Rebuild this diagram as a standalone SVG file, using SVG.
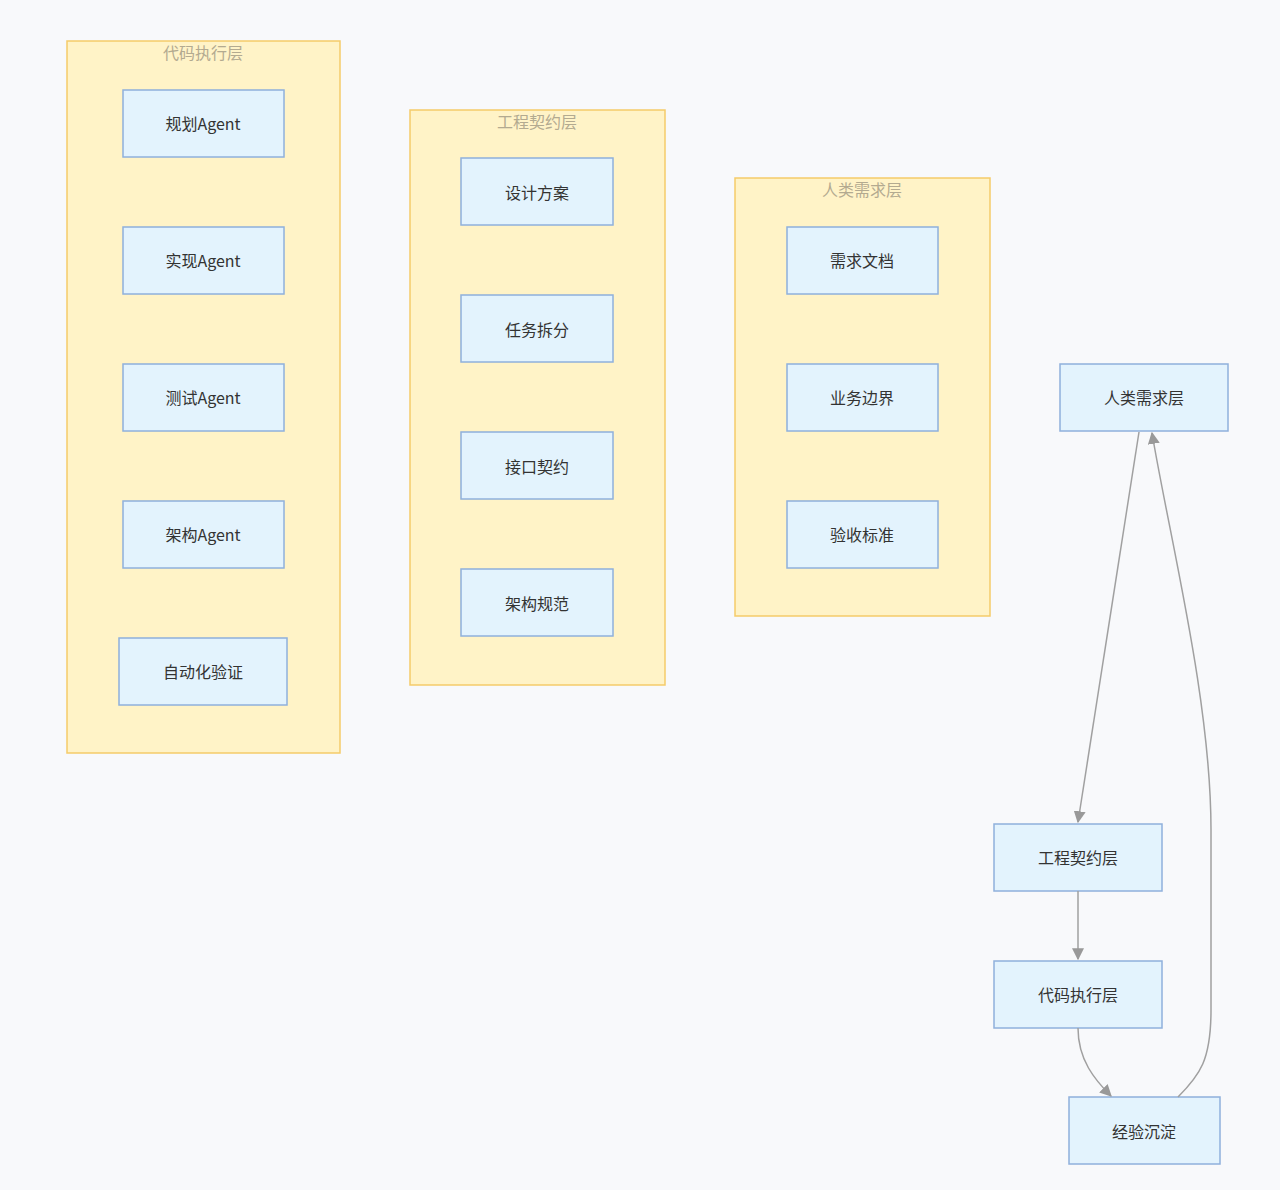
<svg xmlns="http://www.w3.org/2000/svg" width="1280" height="1190" viewBox="0 0 1280 1190">
<style>
.bg{fill:#f8f9fb}
.cl{fill:#fff3c7;stroke:#f5cb6a;stroke-width:1.5}
.ct{font-family:"Noto Sans CJK SC","Liberation Sans",sans-serif;font-size:16px;fill:#b3aa90;text-anchor:middle}
.n{fill:#e3f3fd;stroke:#8fb0dc;stroke-width:1.5}
.t{font-family:"Noto Sans CJK SC","Liberation Sans",sans-serif;font-size:16px;fill:#333;text-anchor:middle;dominant-baseline:central}
.e{fill:none;stroke:#a0a0a0;stroke-width:1.5}
</style>
<defs><marker id="a" viewBox="0 0 10 10" refX="9" refY="5" markerWidth="8" markerHeight="8" orient="auto-start-reverse"><path d="M0,0L10,5L0,10z" fill="#999"/></marker></defs>
<rect class="bg" width="1280" height="1190"/>
<g id="c1"><rect class="cl" x="67" y="41" width="273" height="712"/><text class="ct" x="203" y="59">代码执行层</text></g>
<g id="c2"><rect class="cl" x="410" y="110" width="255" height="575"/><text class="ct" x="537" y="128">工程契约层</text></g>
<g id="c3"><rect class="cl" x="735" y="178" width="255" height="438"/><text class="ct" x="862" y="196">人类需求层</text></g>
<g id="n1"><rect class="n" x="123" y="90" width="161" height="67"/><text class="t" x="203" y="123">规划Agent</text></g>
<g id="n2"><rect class="n" x="123" y="227" width="161" height="67"/><text class="t" x="203" y="260">实现Agent</text></g>
<g id="n3"><rect class="n" x="123" y="364" width="161" height="67"/><text class="t" x="203" y="397">测试Agent</text></g>
<g id="n4"><rect class="n" x="123" y="501" width="161" height="67"/><text class="t" x="203" y="534">架构Agent</text></g>
<g id="n5"><rect class="n" x="119" y="638" width="168" height="67"/><text class="t" x="203" y="671">自动化验证</text></g>
<g id="n6"><rect class="n" x="461" y="158" width="152" height="67"/><text class="t" x="537" y="192">设计方案</text></g>
<g id="n7"><rect class="n" x="461" y="295" width="152" height="67"/><text class="t" x="537" y="329">任务拆分</text></g>
<g id="n8"><rect class="n" x="461" y="432" width="152" height="67"/><text class="t" x="537" y="466">接口契约</text></g>
<g id="n9"><rect class="n" x="461" y="569" width="152" height="67"/><text class="t" x="537" y="603">架构规范</text></g>
<g id="n10"><rect class="n" x="787" y="227" width="151" height="67"/><text class="t" x="862" y="260">需求文档</text></g>
<g id="n11"><rect class="n" x="787" y="364" width="151" height="67"/><text class="t" x="862" y="397">业务边界</text></g>
<g id="n12"><rect class="n" x="787" y="501" width="151" height="67"/><text class="t" x="862" y="534">验收标准</text></g>
<g id="n13"><rect class="n" x="1060" y="364" width="168" height="67"/><text class="t" x="1144" y="397">人类需求层</text></g>
<g id="n14"><rect class="n" x="994" y="824" width="168" height="67"/><text class="t" x="1078" y="857">工程契约层</text></g>
<g id="n15"><rect class="n" x="994" y="961" width="168" height="67"/><text class="t" x="1078" y="994">代码执行层</text></g>
<g id="n16"><rect class="n" x="1069" y="1097" width="151" height="67"/><text class="t" x="1144" y="1131">经验沉淀</text></g>
<g id="edges">
<path class="e" d="M1139,432L1078,822" marker-end="url(#a)"/>
<path class="e" d="M1078,891L1078,959" marker-end="url(#a)"/>
<path class="e" d="M1078,1028C1078,1060 1095,1080 1111,1096" marker-end="url(#a)"/>
<path class="e" d="M1178,1097C1200,1075 1211,1060 1211,1010L1211,830C1211,700 1170,540 1152,433" marker-end="url(#a)"/>
</g>
</svg>
